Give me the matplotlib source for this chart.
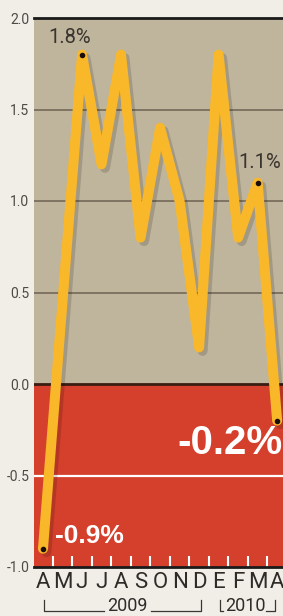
import matplotlib
matplotlib.use("Agg")
import matplotlib.pyplot as plt
import matplotlib.patheffects as pe
from matplotlib.transforms import blended_transform_factory
from matplotlib.font_manager import fontManager

# ---- data ----
months = ["A", "M", "J", "J", "A", "S", "O", "N", "D", "E", "F", "M", "A"]
values = [-0.9, 0.45, 1.8, 1.2, 1.8, 0.8, 1.4, 1.0, 0.2, 1.8, 0.8, 1.1, -0.2]
yticks = [-1.0, -0.5, 0.0, 0.5, 1.0, 1.5, 2.0]
ytick_labels = ["-1.0", "-0.5", "0.0", "0.5", "1.0", "1.5", "2.0"]
labelled_idx = [0, 2, 11, 12]
labelled_text = ["-0.9%", "1.8%", "1.1%", "-0.2%"]
years = ["2009", "2010"]
year_spans = [(0, 8), (9, 12)]
year_mid = [4.35, 10.35]

names = {f.name for f in fontManager.ttflist}
narrow = "Liberation Sans Narrow" if "Liberation Sans Narrow" in names else "Roboto"
fam = [narrow, "DejaVu Sans"]
bold_fam = ["Liberation Sans", "DejaVu Sans"]

W, H = 283, 616
fig = plt.figure(figsize=(W / 100, H / 100), dpi=100)
fig.patch.set_facecolor("#f1eee8")
ax = fig.add_axes([34 / W, 1 - 567 / H, 1 - 34 / W, (567 - 18) / H])

x = list(range(len(months)))
ax.set_xlim(-0.46, 12.3)
ax.set_ylim(-1.0, 2.0)

tan = "#bfb49c"
red = "#d5402c"
ax.axhspan(0, 2, color=tan, zorder=0, lw=0)
ax.axhspan(-1, 0, color=red, zorder=0, lw=0)
for g in [0.5, 1.0, 1.5]:
    ax.axhline(g, color="#6e6352", lw=1.1, zorder=1)
ax.axhline(-0.5, color="white", lw=1.6, zorder=1)
ax.axhline(0.0, color="#3a1c12", lw=2.0, zorder=1)

for s in ["left", "right"]:
    ax.spines[s].set_visible(False)
for s in ["top", "bottom"]:
    ax.spines[s].set_color("#1a1a1a")
    ax.spines[s].set_linewidth(2.0)

ax.plot(x, values, color="#f9b82a", lw=7.2, solid_joinstyle="round",
        solid_capstyle="round", zorder=3,
        path_effects=[pe.SimpleLineShadow(offset=(2.5, -2.5), shadow_color="black", alpha=0.15),
                      pe.Normal()])
ax.scatter([x[i] for i in labelled_idx], [values[i] for i in labelled_idx],
           s=9, color="#1a0f08", zorder=4)

# annotations
ax.annotate(labelled_text[1], (x[2], values[2]), xytext=(-8.6, 12.2), textcoords="offset points",
            ha="center", va="center", fontsize=14.5, color="#3a342e", family=fam, zorder=5)
ax.annotate(labelled_text[2], (x[11], values[11]), xytext=(1.4, 14.4), textcoords="offset points",
            ha="center", va="center", fontsize=14.5, color="#3a342e", family=fam, zorder=5)
ax.annotate(labelled_text[0], (x[0], values[0]), xytext=(8.6, 9.4), textcoords="offset points",
            ha="left", va="center", fontsize=19, color="white", weight="bold", family=bold_fam, zorder=5)
ax.annotate(labelled_text[3], (x[12], values[12]), xytext=(4.0, -15.8), textcoords="offset points",
            ha="right", va="center", fontsize=29, color="white", weight="bold", family=bold_fam, zorder=5)

# y ticks
ax.set_yticks(yticks)
ax.set_yticklabels(ytick_labels, family=fam, fontsize=10, color="#4d4a46")
ax.tick_params(axis="y", length=0, pad=3.5)

# x ticks
ax.set_xticks(x)
ax.set_xticklabels(months, family=fam, fontsize=16, color="#2e2b28")
ax.set_xticks([i + 0.5 for i in x[:-1]], minor=True)
ax.tick_params(axis="x", which="major", length=0, pad=3.5)
ax.tick_params(axis="x", which="minor", direction="in", length=8, width=1.5, color="white")

# year brackets
tr = blended_transform_factory(ax.transData, fig.transFigure)
yb = (H - 611) / H
yt = (H - 600) / H
yc = (H - 606) / H
half_w = [1.05, 0.95]
for (lo, hi), lab, mid, half in zip(year_spans, years, year_mid, half_w):
    lo_x = lo + 0.05
    hi_x = hi - 0.1 if hi == 12 else hi + 0.1
    ax.plot([lo_x, lo_x, mid - half - 0.15], [yt, yb, yb], transform=tr, color="#3a3632",
            lw=0.9, clip_on=False)
    ax.plot([mid + half + 0.15, hi_x, hi_x], [yb, yb, yt], transform=tr, color="#3a3632",
            lw=0.9, clip_on=False)
    ax.text(mid, yc, lab, transform=tr, ha="center", va="center", fontsize=13,
            color="#2e2b28", family=fam)

fig.savefig("out.png", dpi=100, facecolor=fig.get_facecolor())
